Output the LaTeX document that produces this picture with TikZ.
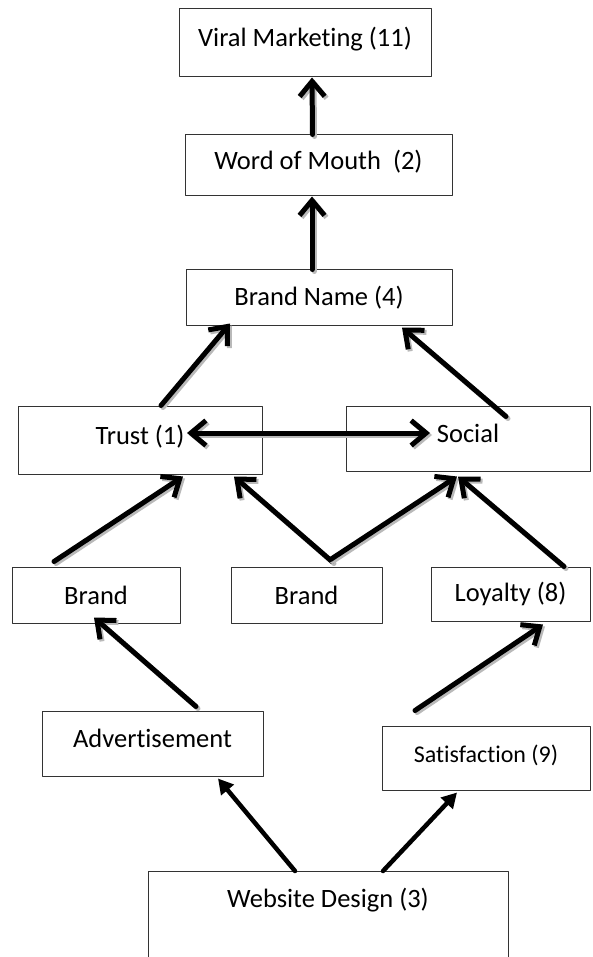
\documentclass[tikz,border=0pt]{standalone}
\usepackage{fontspec}
\setmainfont{Carlito}[Ligatures=NoCommon]
\usepackage{tikz}
\usetikzlibrary{arrows.meta}

\begin{document}
\begin{tikzpicture}[x=1pt,y=-1pt,line cap=round,line join=round,
  >={Straight Barb[length=15pt,width=25pt]},
  box node/.style={rectangle,draw=black!80,line width=1pt,fill=white,inner sep=0pt,
        font=\fontsize{26.5}{30}\selectfont},
  raised/.style={text height=19pt,text depth=11pt},
  up arrow/.style={draw,->,line width=5pt,
        preaction={draw=gray!55,line width=5pt,transform canvas={shift={(2pt,-2pt)}}}},
  low arrow/.style={draw,-{Triangle[length=15pt,width=16pt]},line width=4.5pt}]
  \useasboundingbox[fill=white] (0,0) rectangle (592,957);

  \node[box node, raised, minimum width=252, minimum height=68] (viral) at (305,43)      {Viral Marketing (11)};
  \node[box node, raised, minimum width=267, minimum height=61] (word)  at (318.5,165.5) {Word of Mouth~ (2)};
  \node[box node, minimum width=266, minimum height=55]         (bname) at (319,297.5)   {Brand Name (4)};
  \node[box node, raised, minimum width=244, minimum height=68] (trust) at (140,440)     {Trust (1)};
  \node[box node, raised, minimum width=244, minimum height=65] (social) at (468,438.5)  {Social};
  \node[box node, minimum width=168, minimum height=56]         (brandA) at (96,595)     {Brand};
  \node[box node, minimum width=151, minimum height=56]         (brandB) at (306.5,595)  {Brand};
  \node[box node, minimum width=159, minimum height=54]         (loyal)  at (510.5,594)  {Loyalty (8)};
  \node[box node, raised, minimum width=221, minimum height=65] (advert) at (152.5,743.5) {Advertisement};
  \node[box node, raised, minimum width=208, minimum height=64,
        font=\fontsize{24}{28}\selectfont]                      (satis)  at (486,758)    {Satisfaction (9)};
  \node[box node, minimum width=360, anchor=north, inner ysep=17pt,
        text height=19pt, text depth=100pt]                     (web)    at (328,871)    {Website Design (3)};

  \path[every edge/.style={up arrow}]
    ([xshift=-6pt]word.north)                 edge ([xshift=7pt]viral.south)
    ([xshift=-7pt]bname.north)                edge ([xshift=-6.5pt]word.south)
    ([xshift=21pt]trust.north)                edge ([xshift=-89pt,yshift=2pt]bname.south)
    ([xshift=38pt,yshift=-11pt]social.north)  edge ([xshift=83pt,yshift=-2pt]bname.south)
    ([xshift=-42pt,yshift=5pt]brandA.north)   edge ([xshift=43pt,yshift=-2pt]trust.south)
    ([xshift=25.5pt,yshift=5pt]brandB.north)  edge ([xshift=94pt,yshift=-2pt]trust.south)
    ([xshift=24pt,yshift=7pt]brandB.north)    edge ([xshift=-11pt,yshift=-5pt]social.south)
    ([xshift=53.5pt]loyal.north)              edge ([xshift=-10pt,yshift=-5pt]social.south)
    ([xshift=43.5pt,yshift=4pt]advert.north)  edge ([xshift=-2pt,yshift=6pt]brandA.south)
    ([xshift=-71pt,yshift=15pt]satis.north)   edge ([xshift=32.5pt,yshift=-3pt]loyal.south)
    ([xshift=47pt,yshift=7pt]trust.center)    edge[<->] ([xshift=-38pt,yshift=5.5pt]social.center);

  \path[every edge/.style={low arrow}]
    ([xshift=-33pt]web.north)                 edge ([xshift=65.5pt,yshift=-2pt]advert.south)
    ([xshift=55pt]web.north)                  edge ([xshift=-29pt,yshift=-2pt]satis.south);
\end{tikzpicture}
\end{document}
